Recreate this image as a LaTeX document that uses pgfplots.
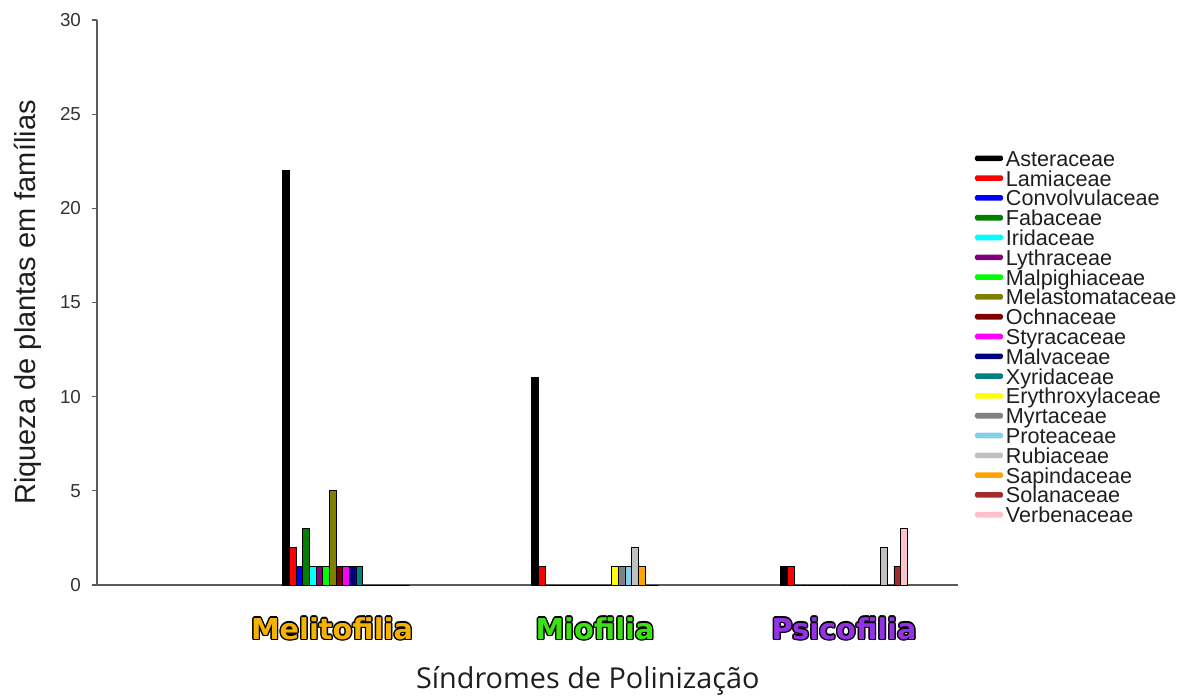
\documentclass[border=0pt]{standalone}
\usepackage{pgfplots}
\pgfplotsset{compat=1.18}
\usepackage{fontspec}
\setmainfont{Liberation Sans}
\newfontfamily\grpfont{DejaVu Sans}
\newfontfamily\osans{Open Sans}

\definecolor{cAst}{RGB}{0,0,0}
\definecolor{cLam}{RGB}{255,0,0}
\definecolor{cCon}{RGB}{0,0,255}
\definecolor{cFab}{RGB}{0,128,0}
\definecolor{cIri}{RGB}{0,255,255}
\definecolor{cLyt}{RGB}{128,0,128}
\definecolor{cMal}{RGB}{0,255,0}
\definecolor{cMel}{RGB}{128,128,0}
\definecolor{cOch}{RGB}{128,0,0}
\definecolor{cSty}{RGB}{255,0,255}
\definecolor{cMlv}{RGB}{0,0,128}
\definecolor{cXyr}{RGB}{0,128,128}
\definecolor{cEry}{RGB}{255,255,0}
\definecolor{cMyr}{RGB}{128,128,128}
\definecolor{cPro}{RGB}{135,206,235}
\definecolor{cRub}{RGB}{192,192,192}
\definecolor{cSap}{RGB}{255,165,0}
\definecolor{cSol}{RGB}{165,42,42}
\definecolor{cVer}{RGB}{255,192,203}
\definecolor{axisgray}{RGB}{90,90,90}
\definecolor{tickgray}{RGB}{50,50,50}
\definecolor{legendgray}{RGB}{30,30,30}
\definecolor{melcol}{RGB}{245,178,0}
\definecolor{miocol}{RGB}{60,225,20}
\definecolor{psicol}{RGB}{150,50,230}

\newcommand\oc[3]{\makebox[0pt][l]{\hspace*{#1}\raisebox{#2}{\color{black}#3}}}
\newcommand\outl[2]{\oc{-0.7pt}{0pt}{#2}\oc{0.7pt}{0pt}{#2}\oc{0pt}{0.7pt}{#2}\oc{0pt}{-0.7pt}{#2}\oc{-0.5pt}{0.5pt}{#2}\oc{0.5pt}{0.5pt}{#2}\oc{-0.5pt}{-0.5pt}{#2}\oc{0.5pt}{-0.5pt}{#2}\textcolor{#1}{#2}}

\pgfplotsset{mylegend/.style={legend image code/.code={\fill[##1,draw=none,rounded corners=0.8pt] (0pt,0.5pt) rectangle (14pt,3.3pt);}}}

\begin{document}
\begin{tikzpicture}
\useasboundingbox (0,0) rectangle (596pt,-348pt);
\begin{axis}[
  scale only axis, width=430.5pt, height=282.5pt,
  at={(48.5pt,-292.5pt)}, anchor=south west,
  ybar=0pt, bar width=3.33pt,
  xmin=0, xmax=3.4578, ymin=0, ymax=30,
  axis x line*=bottom, axis y line*=left,
  axis line style={draw=axisgray, line width=0.6pt},
  xtick={1,2,3},
  xticklabels={{\makebox[0pt]{\outl{melcol}{Melitofilia}}\hspace*{14pt}},{\outl{miocol}{Miofilia}},{\outl{psicol}{Psicofilia}}},
  x tick style={draw=none},
  ytick={0,5,10,15,20,25,30},
  y tick style={draw=axisgray, line width=0.6pt},
  tick align=outside, major tick length=2.5pt,
  /pgf/number format/assume math mode=true,
  yticklabel style={font=\fontsize{9.4}{10}\selectfont, text=tickgray, xshift=-2pt},
  xticklabel style={font=\grpfont\bfseries\fontsize{14.4}{16}\selectfont, anchor=base, yshift=-24.5pt},
  ylabel={Riqueza de plantas em famílias},
  ylabel style={font=\fontsize{14.5}{16}\selectfont, text=legendgray, at={(axis description cs:-0.0801,0.5)}, anchor=center},
  xlabel={Síndromes de Polinização},
  xlabel style={font=\osans\fontsize{14.4}{16}\selectfont, text=legendgray, at={(axis description cs:0.570,-0.170)}, anchor=center},
  legend cell align=left,
  legend style={at={(axis description cs:1.0197,0.766)}, anchor=north west, draw=none, fill=none,
    inner sep=0pt, outer sep=0pt, row sep=0pt, column sep=1.5pt,
    font=\fontsize{10.8}{10}\selectfont, text=legendgray,
    nodes={inner sep=0pt, text height=7pt, text depth=2.9pt}},
  every axis plot post/.append style={mylegend, draw=black, line width=0.4pt},
]
\addplot[fill=cAst] coordinates {(1,22) (2,11) (3,1)};
\addlegendentry{Asteraceae}
\addplot[fill=cLam] coordinates {(1,2) (2,1) (3,1)};
\addlegendentry{Lamiaceae}
\addplot[fill=cCon] coordinates {(1,1) (2,0) (3,0)};
\addlegendentry{Convolvulaceae}
\addplot[fill=cFab] coordinates {(1,3) (2,0) (3,0)};
\addlegendentry{Fabaceae}
\addplot[fill=cIri] coordinates {(1,1) (2,0) (3,0)};
\addlegendentry{Iridaceae}
\addplot[fill=cLyt] coordinates {(1,1) (2,0) (3,0)};
\addlegendentry{Lythraceae}
\addplot[fill=cMal] coordinates {(1,1) (2,0) (3,0)};
\addlegendentry{Malpighiaceae}
\addplot[fill=cMel] coordinates {(1,5) (2,0) (3,0)};
\addlegendentry{Melastomataceae}
\addplot[fill=cOch] coordinates {(1,1) (2,0) (3,0)};
\addlegendentry{Ochnaceae}
\addplot[fill=cSty] coordinates {(1,1) (2,0) (3,0)};
\addlegendentry{Styracaceae}
\addplot[fill=cMlv] coordinates {(1,1) (2,0) (3,0)};
\addlegendentry{Malvaceae}
\addplot[fill=cXyr] coordinates {(1,1) (2,0) (3,0)};
\addlegendentry{Xyridaceae}
\addplot[fill=cEry] coordinates {(1,0) (2,1) (3,0)};
\addlegendentry{Erythroxylaceae}
\addplot[fill=cMyr] coordinates {(1,0) (2,1) (3,0)};
\addlegendentry{Myrtaceae}
\addplot[fill=cPro] coordinates {(1,0) (2,1) (3,0)};
\addlegendentry{Proteaceae}
\addplot[fill=cRub] coordinates {(1,0) (2,2) (3,2)};
\addlegendentry{Rubiaceae}
\addplot[fill=cSap] coordinates {(1,0) (2,1) (3,0)};
\addlegendentry{Sapindaceae}
\addplot[fill=cSol] coordinates {(1,0) (2,0) (3,1)};
\addlegendentry{Solanaceae}
\addplot[fill=cVer] coordinates {(1,0) (2,0) (3,3)};
\addlegendentry{Verbenaceae}
\end{axis}
\end{tikzpicture}
\end{document}
